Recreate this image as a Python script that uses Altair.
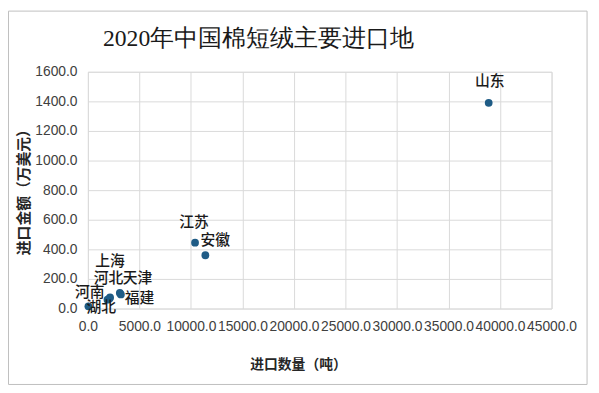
import altair as alt
import pandas as pd

regions = ["山东", "江苏", "安徽", "上海", "河北", "天津", "福建", "河南", "湖北"]
quantity = [38900, 10400, 11400, 2150, 2100, 3100, 3200, 1900, 50]
amount = [1390, 445, 360, 75, 68, 105, 95, 60, 15]
x_ticks = list(range(0, 45001, 5000))
y_ticks = list(range(0, 1601, 200))
chart_title = "2020年中国棉短绒主要进口地"

df = pd.DataFrame({"region": regions, "qty": quantity, "amt": amount})

# label placement (pixel offsets from each dot)
label_offsets = {
    "山东": (1, -22), "江苏": (-1, -21), "安徽": (10, -15),
    "上海": (0, -37), "河北": (-1, -21), "天津": (18, -15),
    "福建": (19, 4), "河南": (-18, -8), "湖北": (13, 1),
}

W, H = 470, 240
xscale = alt.Scale(domain=[0, 45000], nice=False, zero=True)
yscale = alt.Scale(domain=[0, 1600], nice=False)

x_axis = alt.Axis(values=x_ticks, format=".1f",
                  labelFont="Liberation Sans", labelFontSize=14, labelColor="#404040",
                  labelPadding=11, ticks=False, domain=False, labelOverlap=False,
                  labelFlush=False, grid=True, gridColor="#d9d9d9",
                  titleFont="Noto Sans CJK SC", titleFontSize=14, titleFontWeight="bold",
                  titleColor="#262626", titleX=213, titleY=50)
y_axis = alt.Axis(values=y_ticks, format=".1f",
                  labelFont="Liberation Sans", labelFontSize=14, labelColor="#404040",
                  labelPadding=11, ticks=False, domain=False, labelOverlap=False,
                  grid=True, gridColor="#d9d9d9",
                  titleFont="Noto Sans CJK SC", titleFontSize=15, titleFontWeight="bold",
                  titleColor="#262626", titleX=-57, titleY=118)

X = alt.X("qty:Q", scale=xscale, title="进口数量（吨）", axis=x_axis)
Y = alt.Y("amt:Q", scale=yscale, title="进口金额（万美元）", axis=y_axis)

base = alt.Chart(df)

points = base.mark_circle(size=62, opacity=1, color="#1f5c86").encode(x=X, y=Y)

layers = [points]
for name, (dx, dy) in label_offsets.items():
    layers.append(
        base.transform_filter(alt.datum.region == name)
        .mark_text(dx=dx, dy=dy, font="Noto Sans CJK SC", fontSize=15, fontWeight=500,
                   color="#1a1a1a", align="center", baseline="middle")
        .encode(x=X, y=Y, text="region:N")
    )

deco = alt.Chart(pd.DataFrame({"t": [chart_title]}))
frame = deco.mark_rect(fill=None, stroke="#bfbfbf", strokeWidth=1).encode(
    x=alt.value(-80.5), x2=alt.value(W + 36), y=alt.value(-61.5), y2=alt.value(H + 77))
title = deco.mark_text(font="Liberation Serif", fontSize=24, color="#1a1a1a",
                       align="center", baseline="middle").encode(
    x=alt.value(173), y=alt.value(-33), text="t:N")

chart = alt.layer(*layers, frame, title).properties(
    width=W, height=H,
    autosize=alt.AutoSizeParams(type="none"),
    padding={"left": 81, "top": 62, "right": 40, "bottom": 83},
).configure_view(stroke="#d9d9d9").configure(background="white")

chart.save("out.html", embed_options={"renderer": "svg", "actions": False})
